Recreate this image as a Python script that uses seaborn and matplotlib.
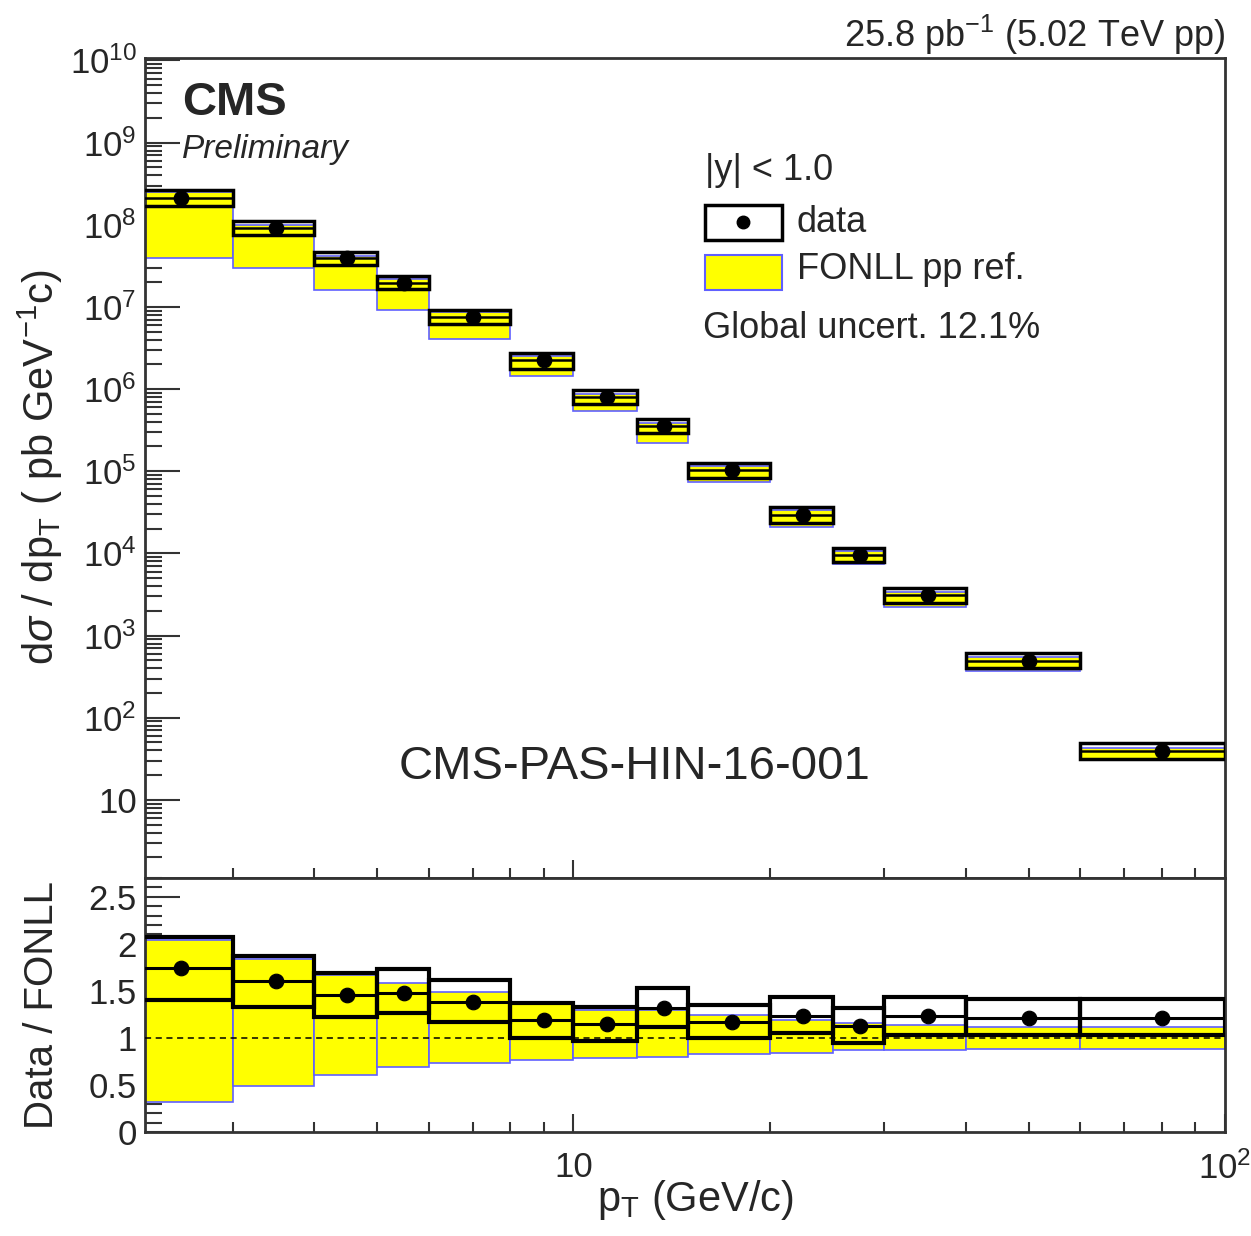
import numpy as np
import pandas as pd
import matplotlib
matplotlib.use("Agg")
import matplotlib.pyplot as plt
from matplotlib.ticker import LogLocator, FuncFormatter, MultipleLocator, NullFormatter
from matplotlib.patches import Rectangle
import seaborn as sns

# pT bins (GeV/c)
bin_lo = [2, 3, 4, 5, 6, 8, 10, 12.5, 15, 20, 25, 30, 40, 60]
bin_hi = [3, 4, 5, 6, 8, 10, 12.5, 15, 20, 25, 30, 40, 60, 100]

# cross section (pb GeV^-1 c)
xsec = [2.1e8, 9.1e7, 3.9e7, 1.95e7, 7.5e6, 2.25e6, 8.0e5, 3.55e5, 1.04e5, 2.93e4, 9.55e3, 3.12e3, 491, 39.4]
xsec_syst_lo = [1.68e8, 7.5e7, 3.23e7, 1.65e7, 6.2e6, 1.75e6, 6.6e5, 2.9e5, 8.3e4, 2.34e4, 7.85e3, 2.5e3, 403, 31.5]
xsec_syst_hi = [2.63e8, 1.11e8, 4.65e7, 2.37e7, 9.1e6, 2.74e6, 9.7e5, 4.3e5, 1.26e5, 3.67e4, 1.16e4, 3.8e3, 614, 49.3]
fonll_lo = [3.9e7, 2.96e7, 1.6e7, 9.1e6, 4.05e6, 1.44e6, 5.4e5, 2.2e5, 7.4e4, 2.1e4, 7.4e3, 2.23e3, 371, 30.7]
fonll_hi = [2.5e8, 1.0e8, 4.2e7, 2.2e7, 8.7e6, 2.5e6, 8.8e5, 3.9e5, 1.16e5, 3.37e4, 1.07e4, 3.4e3, 550, 42.7]

# data / FONLL ratio panel
ratio = [1.74, 1.60, 1.46, 1.48, 1.38, 1.19, 1.15, 1.32, 1.17, 1.23, 1.13, 1.23, 1.21, 1.21]
ratio_syst_lo = [1.40, 1.33, 1.22, 1.26, 1.17, 1.00, 0.97, 1.12, 1.00, 1.05, 0.95, 1.03, 1.03, 1.03]
ratio_syst_hi = [2.07, 1.87, 1.69, 1.73, 1.62, 1.37, 1.33, 1.53, 1.35, 1.44, 1.32, 1.44, 1.41, 1.41]
fonll_ratio_lo = [0.32, 0.49, 0.61, 0.69, 0.73, 0.77, 0.79, 0.80, 0.83, 0.84, 0.87, 0.87, 0.88, 0.88]
fonll_ratio_hi = [2.04, 1.84, 1.67, 1.58, 1.49, 1.38, 1.30, 1.30, 1.24, 1.19, 1.16, 1.14, 1.12, 1.12]

sns.set_theme(style="ticks")
plt.rcParams["font.family"] = ["Liberation Sans", "DejaVu Sans"]
plt.rcParams["mathtext.fontset"] = "custom"
plt.rcParams["mathtext.rm"] = "Liberation Sans"
plt.rcParams["mathtext.it"] = "Liberation Sans:italic"
plt.rcParams["mathtext.bf"] = "Liberation Sans:bold"

lo = np.array(bin_lo)
hi = np.array(bin_hi)
width = hi - lo
df = pd.DataFrame({"pt": (lo + hi) / 2, "xsec": xsec, "ratio": ratio})

W, H = 1251, 1236
fig = plt.figure(figsize=(W / 100, H / 100), dpi=100)
ax = fig.add_axes([145 / W, 1 - 878 / H, 1080 / W, 820 / H])
rax = fig.add_axes([145 / W, 1 - 1132 / H, 1080 / W, 254 / H], sharex=ax)

YELLOW = "#ffff00"
BLUE = "#6060ff"


def draw_bins(a, central, slo, shi, flo, fhi, box_lw, mid_lw):
    flo, fhi, slo, shi = map(np.array, (flo, fhi, slo, shi))
    a.bar(lo, fhi - flo, width=width, bottom=flo, align="edge",
          color=YELLOW, edgecolor=BLUE, linewidth=1.2, zorder=2)
    a.bar(lo, shi - slo, width=width, bottom=slo, align="edge",
          fill=False, edgecolor="black", linewidth=box_lw, zorder=3)
    a.hlines(central, lo, hi, color="black", linewidth=mid_lw, zorder=4)


# top panel
draw_bins(ax, xsec, xsec_syst_lo, xsec_syst_hi, fonll_lo, fonll_hi, 2.5, 1.8)
sns.scatterplot(data=df, x="pt", y="xsec", ax=ax, color="black", s=110,
                edgecolor="black", zorder=5, legend=False)
ax.set_xscale("log")
ax.set_yscale("log")
ax.set_xlim(2.2, 100)
ax.set_ylim(1.12, 1.07e10)
ax.set_xlabel("")
ax.set_ylabel("")


def log_fmt(v, pos):
    n = int(round(np.log10(v)))
    if n == 1:
        return "10"
    return r"$10^{%d}$" % n


ax.yaxis.set_major_locator(LogLocator(base=10, numticks=20))
ax.yaxis.set_minor_locator(LogLocator(base=10, subs=np.arange(2, 10), numticks=20))
ax.yaxis.set_major_formatter(FuncFormatter(log_fmt))
ax.yaxis.set_minor_formatter(NullFormatter())
ax.tick_params(axis="x", which="both", labelbottom=False)

# ratio panel
draw_bins(rax, ratio, ratio_syst_lo, ratio_syst_hi, fonll_ratio_lo, fonll_ratio_hi, 3.0, 2.2)
sns.scatterplot(data=df, x="pt", y="ratio", ax=rax, color="black", s=110,
                edgecolor="black", zorder=5, legend=False)
rax.axhline(1.0, color="black", linestyle=(0, (4, 3)), linewidth=1.1, zorder=6)
rax.set_ylim(0, 2.7)
rax.set_xlim(2.2, 100)
rax.set_xlabel("")
rax.set_ylabel("")
rax.yaxis.set_major_locator(MultipleLocator(0.5))
rax.yaxis.set_minor_locator(MultipleLocator(0.1))
rax.yaxis.set_major_formatter(FuncFormatter(lambda v, p: "%g" % v))
rax.yaxis.set_minor_formatter(NullFormatter())
rax.xaxis.set_major_locator(LogLocator(base=10, numticks=10))
rax.xaxis.set_minor_locator(LogLocator(base=10, subs=np.arange(2, 10), numticks=20))
rax.xaxis.set_major_formatter(FuncFormatter(log_fmt))
rax.xaxis.set_minor_formatter(NullFormatter())

for a in (ax, rax):
    for sp in a.spines.values():
        sp.set_linewidth(2)
        sp.set_color("#333333")
    a.tick_params(which="both", direction="in", top=False, right=False,
                  labelsize=25, color="#333333", width=1.5)
    a.tick_params(axis="y", which="major", length=25, pad=6)
    a.tick_params(axis="y", which="minor", length=12)
    a.tick_params(axis="x", which="major", length=13, pad=14)
    a.tick_params(axis="x", which="minor", length=7)

# texts
ax.text(0.034, 0.945, "CMS", transform=ax.transAxes, fontsize=34,
        fontweight="bold", va="center", ha="left")
ax.text(0.034, 0.888, "Preliminary", transform=ax.transAxes, fontsize=24,
        style="italic", va="center", ha="left")
ax.text(1.0, 1.028, r"25.8 pb$^{-1}$ (5.02 TeV pp)", transform=ax.transAxes,
        fontsize=26, ha="right", va="center")
ax.text(0.4537, 0.135, "CMS-PAS-HIN-16-001", transform=ax.transAxes,
        fontsize=34, ha="center", va="center")

# legend drawn by hand
ax.text(0.5185, 0.8634, "|y| < 1.0", transform=ax.transAxes, fontsize=26, va="center")
ax.add_patch(Rectangle((0.5185, 0.778), 0.0715, 0.0427, transform=ax.transAxes,
                       fill=False, edgecolor="black", linewidth=2.5, zorder=7))
ax.plot([0.554], [0.7995], marker="o", color="black", markersize=9,
        transform=ax.transAxes, zorder=8)
ax.text(0.6037, 0.80, "data", transform=ax.transAxes, fontsize=26, va="center")
ax.add_patch(Rectangle((0.5185, 0.717), 0.0715, 0.0427, transform=ax.transAxes,
                       facecolor=YELLOW, edgecolor=BLUE, linewidth=1.5, zorder=7))
ax.text(0.6037, 0.7415, "FONLL pp ref.", transform=ax.transAxes, fontsize=26, va="center")
ax.text(0.5167, 0.6707, "Global uncert. 12.1%", transform=ax.transAxes,
        fontsize=26, va="center")

# axis titles
fig.text(40 / W, 1 - 467 / H, r"d$\sigma$ / dp$_{\mathrm{T}}$ ( pb GeV$^{\mathrm{-1}}$c)",
         rotation=90, ha="center", va="center", fontsize=30)
fig.text(42 / W, 1 - 1005 / H, "Data / FONLL", rotation=90, ha="center",
         va="center", fontsize=29)
fig.text(695 / W, 1 - 1200 / H, r"p$_{\mathrm{T}}$ (GeV/c)", ha="center",
         va="center", fontsize=30)

fig.savefig("out.png", dpi=100)
